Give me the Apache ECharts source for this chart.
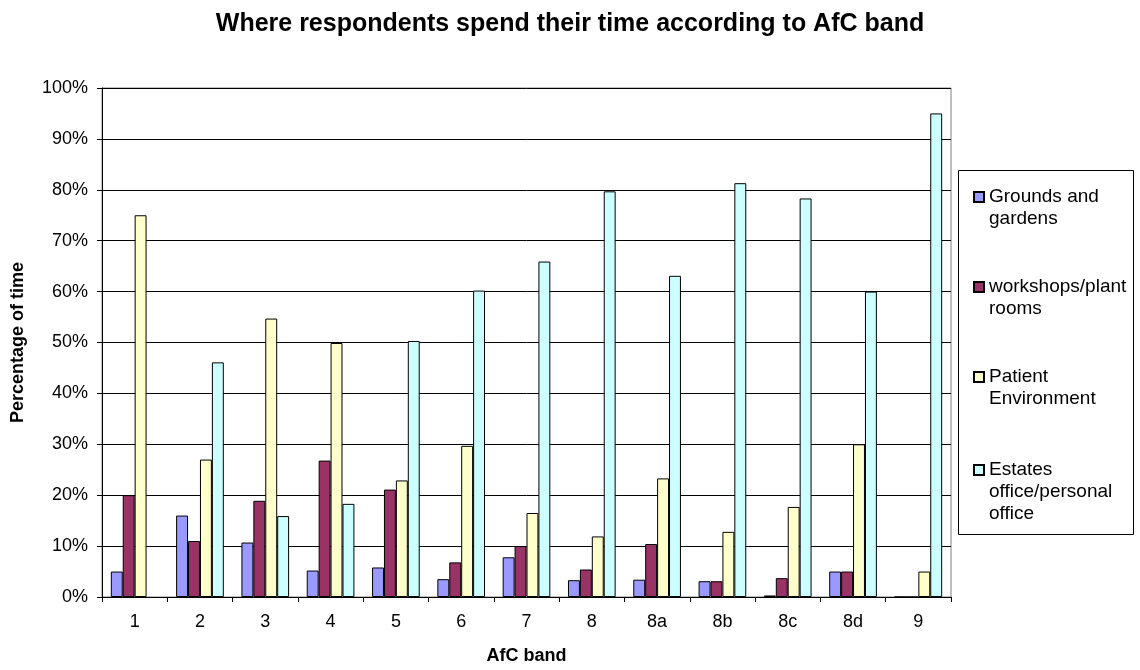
<!DOCTYPE html>
<html>
<head>
<meta charset="utf-8">
<script src="https://cdn.jsdelivr.net/npm/echarts@6/dist/echarts.min.js"></script>
<style>
  html, body { margin: 0; padding: 0; background: #fff; }
  #chart { width: 1140px; height: 670px; }
</style>
</head>
<body>
<div id="chart"></div>
<script>
// AfC bands along the x axis
const bands = ['1', '2', '3', '4', '5', '6', '7', '8', '8a', '8b', '8c', '8d', '9'];

// Share of time (%) spent in each location, per band
const groundsGardens   = [5.0, 16.0, 10.7, 5.2, 5.8, 3.5, 7.8, 3.3, 3.4, 3.1, 0.3, 5.0, 0];
const workshopsPlant   = [20.0, 11.0, 18.9, 26.8, 21.1, 6.8, 10.0, 5.4, 10.4, 3.1, 3.7, 5.0, 0];
const patientEnv       = [75.0, 27.0, 54.7, 49.9, 22.9, 29.7, 16.5, 11.9, 23.3, 12.8, 17.7, 30.0, 5.0];
const estatesOffice    = [null, 46.1, 15.9, 18.3, 50.3, 60.2, 65.9, 79.7, 63.1, 81.3, 78.3, 60.0, 95.0];

// Y axis tick values (%)
const yTicks = [0, 10, 20, 30, 40, 50, 60, 70, 80, 90, 100];

const seriesNames = [
  'Grounds and gardens',
  'workshops/plant rooms',
  'Patient Environment',
  'Estates office/personal office'
];
// How each legend entry wraps
const legendLines = {
  'Grounds and gardens': ['Grounds and', 'gardens'],
  'workshops/plant rooms': ['workshops/plant', 'rooms'],
  'Patient Environment': ['Patient', 'Environment'],
  'Estates office/personal office': ['Estates', 'office/personal', 'office']
};
const seriesData = [groundsGardens, workshopsPlant, patientEnv, estatesOffice];
const colors = ['#9999FF', '#993366', '#FFFFCC', '#CCFFFF'];

const FONT = '"Liberation Sans", Arial, sans-serif';
const LINE_H = 22;
const legendTops = [164, 254, 344, 415];

// Legend text is centred on its icon; blank leading lines keep the icon
// level with the first line of a wrapped entry.
function legendText(name) {
  const lines = legendLines[name];
  const pad = new Array(lines.length - 1).fill(' ');
  return pad.concat(lines).join('\n');
}

const legends = seriesNames.map((name, i) => ({
  orient: 'vertical',
  left: 973,
  top: legendTops[i],
  padding: 0,
  itemWidth: 10,
  itemHeight: 10,
  icon: 'rect',
  selectedMode: false,
  data: [name],
  formatter: legendText,
  textStyle: {
    fontFamily: FONT,
    fontSize: 19,
    color: '#000',
    lineHeight: LINE_H
  }
}));

const chart = echarts.init(document.getElementById('chart'), null, { renderer: 'canvas' });

chart.setOption({
  animation: false,
  backgroundColor: '#fff',
  title: {
    text: 'Where respondents spend their time according to AfC band',
    left: 'center',
    top: 7,
    textStyle: { fontFamily: FONT, fontWeight: 'bold', fontSize: 25, color: '#000' }
  },
  legend: legends,
  graphic: [{
    type: 'rect',
    left: 958,
    top: 170,
    z: -1,
    shape: { width: 175, height: 364 },
    style: { fill: '#fff', stroke: '#000', lineWidth: 1 }
  }],
  grid: {
    left: 102,
    right: 189,
    top: 88,
    bottom: 66,
    show: true,
    borderColor: '#808080',
    borderWidth: 1,
    backgroundColor: 'transparent'
  },
  xAxis: {
    type: 'category',
    data: bands,
    name: 'AfC band',
    nameLocation: 'middle',
    nameGap: 50,
    nameTextStyle: { fontFamily: FONT, fontWeight: 'bold', fontSize: 18, color: '#000' },
    axisLine: { lineStyle: { color: '#000', width: 1 } },
    axisTick: { show: true, length: 5, lineStyle: { color: '#000' } },
    axisLabel: { fontFamily: FONT, fontSize: 18, color: '#000', margin: 16 },
    splitLine: { show: false }
  },
  yAxis: {
    type: 'value',
    min: yTicks[0],
    max: yTicks[yTicks.length - 1],
    interval: yTicks[1] - yTicks[0],
    name: 'Percentage of time',
    nameLocation: 'middle',
    nameGap: 75,
    nameTextStyle: { fontFamily: FONT, fontWeight: 'bold', fontSize: 18, color: '#000' },
    axisLine: { show: true, lineStyle: { color: '#000', width: 1 } },
    axisTick: { show: true, length: 5, lineStyle: { color: '#000' } },
    axisLabel: { fontFamily: FONT, fontSize: 18, color: '#000', margin: 14, formatter: v => v + '%' },
    splitLine: { show: true, lineStyle: { color: '#000', width: 1 } }
  },
  series: seriesNames.map((name, i) => ({
    name: name,
    type: 'bar',
    data: seriesData[i],
    barGap: '0%',
    barCategoryGap: '27%',
    itemStyle: { color: colors[i], borderColor: '#000', borderWidth: 1 }
  }))
});
</script>
</body>
</html>
